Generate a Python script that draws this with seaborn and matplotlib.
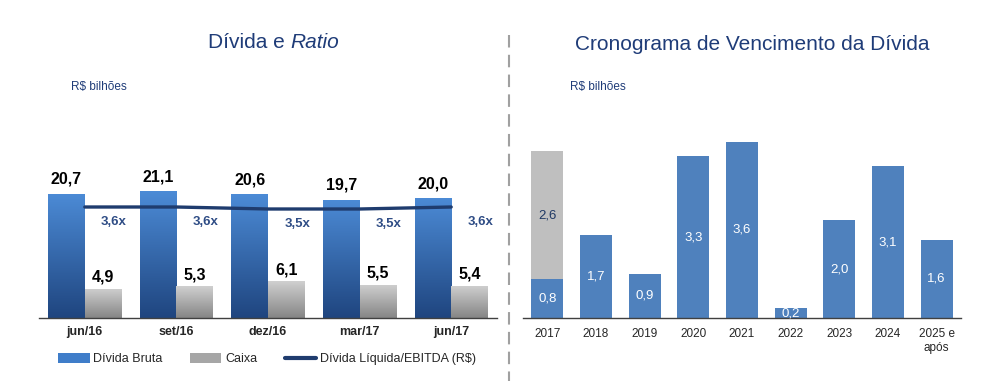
import numpy as np
import pandas as pd
import matplotlib
matplotlib.use("Agg")
import matplotlib.pyplot as plt
import seaborn as sns
from matplotlib.colors import LinearSegmentedColormap
from matplotlib.patches import Patch
from matplotlib.lines import Line2D


# ================== DATA ==================
periodos = ["jun/16", "set/16", "dez/16", "mar/17", "jun/17"]
divida_bruta = [20.7, 21.1, 20.6, 19.7, 20.0]
caixa = [4.9, 5.3, 6.1, 5.5, 5.4]
ratio = [3.6, 3.6, 3.5, 3.5, 3.6]

anos = ["2017", "2018", "2019", "2020", "2021", "2022", "2023", "2024", "2025 e\napós"]
vencimento = [0.8, 1.7, 0.9, 3.3, 3.6, 0.2, 2.0, 3.1, 1.6]
vencimento_cinza = [2.6]   # parcela cinza empilhada em 2017


# ================== STYLE ==================
sns.set_style("white")
plt.rcParams["font.family"] = ["Liberation Sans", "DejaVu Sans"]

NAVY = "#1F3C78"
BLUE_TOP, BLUE_BOT = "#4C8BD6", "#1F457F"
GRAY_TOP, GRAY_BOT = "#D0D0D0", "#858585"
LINE_C = "#1F3C6E"
BLUE_FLAT = "#4F81BD"
GRAY_FLAT = "#BFBFBF"

W, H = 993, 381
fig = plt.figure(figsize=(W / 100, H / 100), dpi=100)


def fx(px):
    return px / W


def fy(px):
    return 1 - px / H


def gradient_bars(ax, color_map):
    # pinta cada barra com um degrade vertical, recortado pela propria barra
    grad = np.linspace(0, 1, 256).reshape(-1, 1)
    for p in list(ax.patches):
        h = p.get_height()
        if h <= 0 or np.isnan(h):
            continue
        fc = matplotlib.colors.to_hex(p.get_facecolor())
        if fc not in color_map:
            continue
        cmap = LinearSegmentedColormap.from_list("g", color_map[fc])
        x0, y0, w = p.get_x(), p.get_y(), p.get_width()
        im = ax.imshow(grad, cmap=cmap, origin="lower", aspect="auto",
                       extent=[x0, x0 + w, y0, y0 + h], zorder=p.get_zorder() + 0.1)
        im.set_clip_path(p)


# ================== LEFT: Divida e Ratio ==================
axl = fig.add_axes([fx(39), 1 - 318 / H, fx(497) - fx(39), 150 / H])

df_l = pd.DataFrame({
    "periodo": periodos * 2,
    "serie": ["Dívida Bruta"] * len(periodos) + ["Caixa"] * len(periodos),
    "valor": divida_bruta + caixa,
})
sns.barplot(data=df_l, x="periodo", y="valor", hue="serie", order=periodos,
            hue_order=["Dívida Bruta", "Caixa"],
            palette={"Dívida Bruta": "#3366aa", "Caixa": "#999999"},
            width=0.8, ax=axl, legend=False, saturation=1, linewidth=0)

gradient_bars(axl, {"#3366aa": [BLUE_BOT, BLUE_TOP], "#999999": [GRAY_BOT, GRAY_TOP]})

for i, v in enumerate(divida_bruta):
    axl.annotate(f"{v:.1f}".replace(".", ","), (i - 0.2, v), xytext=(0, 5),
                 textcoords="offset points", ha="center", va="bottom",
                 fontsize=11.5, fontweight="bold", color="black")
for i, v in enumerate(caixa):
    axl.annotate(f"{v:.1f}".replace(".", ","), (i + 0.2, v), xytext=(0, 3),
                 textcoords="offset points", ha="center", va="bottom",
                 fontsize=11.5, fontweight="bold", color="black")

axl.set_xlim(-0.5, len(periodos) - 0.5)
axl.set_ylim(0, 25)
axl.set_xlabel("")
axl.set_ylabel("")
axl.set_yticks([])
for s in ["top", "right", "left"]:
    axl.spines[s].set_visible(False)
axl.spines["bottom"].set_color("#404040")
axl.spines["bottom"].set_linewidth(1)
axl.set_xticks(range(len(periodos)))
axl.set_xticklabels(periodos, fontsize=9, fontweight="bold")
axl.set_xticks(np.arange(-0.5, len(periodos)), minor=True)
axl.tick_params(axis="x", which="major", length=0, pad=6)
axl.tick_params(axis="x", which="minor", length=4, color="#404040", direction="out")

# linha da relacao divida liquida / EBITDA
axr2 = axl.twinx()
sns.lineplot(x=np.arange(len(ratio)), y=ratio, ax=axr2, color=LINE_C, linewidth=2.4)
axr2.set_ylim(-1.95, 5.55)
axr2.set_xlim(-0.5, len(periodos) - 0.5)
axr2.set_yticks([])
axr2.set_ylabel("")
for s in axr2.spines.values():
    s.set_visible(False)
for i, r in enumerate(ratio):
    axr2.annotate(f"{r:.1f}x".replace(".", ","), (i, r), xytext=(21, -11),
                  textcoords="offset points", ha="center", va="center",
                  fontsize=9.5, fontweight="bold", color="#2E4C85")

legend_handles = [
    Patch(facecolor="#3F7DC9", edgecolor="none"),
    Patch(facecolor="#A6A6A6", edgecolor="none"),
    Line2D([0], [0], color=LINE_C, linewidth=3),
]
fig.legend(legend_handles, ["Dívida Bruta", "Caixa", "Dívida Líquida/EBITDA (R$)"],
           loc="center", bbox_to_anchor=(fx(267), fy(359)), ncol=3, frameon=False,
           fontsize=9, handlelength=2.5, handleheight=0.8, handletextpad=0.3,
           columnspacing=2.2)

fig.text(fx(285), fy(42), "Dívida e", ha="right", va="center", fontsize=15, color=NAVY)
fig.text(fx(290), fy(42), "Ratio", ha="left", va="center", fontsize=15,
         color=NAVY, style="italic")
fig.text(fx(71), fy(87), "R$ bilhões", ha="left", va="center", fontsize=8.5, color=NAVY)


# ================== RIGHT: Cronograma ==================
axv = fig.add_axes([fx(523), 1 - 318 / H, fx(961) - fx(523), 196 / H])

total_2017 = vencimento[0] + vencimento_cinza[0]
sns.barplot(x=[anos[0]], y=[total_2017], order=anos, color=GRAY_FLAT,
            width=0.66, ax=axv, saturation=1, linewidth=0)
sns.barplot(x=anos, y=vencimento, order=anos, color=BLUE_FLAT,
            width=0.66, ax=axv, saturation=1, linewidth=0)

for i, v in enumerate(vencimento):
    axv.text(i, v / 2, f"{v:.1f}".replace(".", ","), ha="center", va="center",
             fontsize=9.5, color="white")
axv.text(0, vencimento[0] + vencimento_cinza[0] / 2,
         f"{vencimento_cinza[0]:.1f}".replace(".", ","),
         ha="center", va="center", fontsize=9.5, color="#1F3864")

axv.set_xlim(-0.5, len(anos) - 0.5)
axv.set_ylim(0, 4.0)
axv.set_xlabel("")
axv.set_ylabel("")
axv.set_yticks([])
for s in ["top", "right", "left"]:
    axv.spines[s].set_visible(False)
axv.spines["bottom"].set_color("#404040")
axv.spines["bottom"].set_linewidth(1)
axv.set_xticks(range(len(anos)))
axv.set_xticklabels(anos, fontsize=8.5, linespacing=1.25, va="top")
axv.set_xticks(np.arange(-0.5, len(anos)), minor=True)
axv.tick_params(axis="x", which="major", length=0, pad=7)
axv.tick_params(axis="x", which="minor", length=4, color="#404040", direction="out")

fig.text(fx(752), fy(45), "Cronograma de Vencimento da Dívida", ha="center",
         va="center", fontsize=15, color=NAVY)
fig.text(fx(570), fy(87), "R$ bilhões", ha="left", va="center", fontsize=8.5, color=NAVY)

# separador tracejado
fig.add_artist(Line2D([fx(509), fx(509)], [fy(35), 0], transform=fig.transFigure,
                      color="#A0A0A0", linewidth=1.5, linestyle=(0, (6, 3.5))))

fig.savefig("out.png", dpi=100)
